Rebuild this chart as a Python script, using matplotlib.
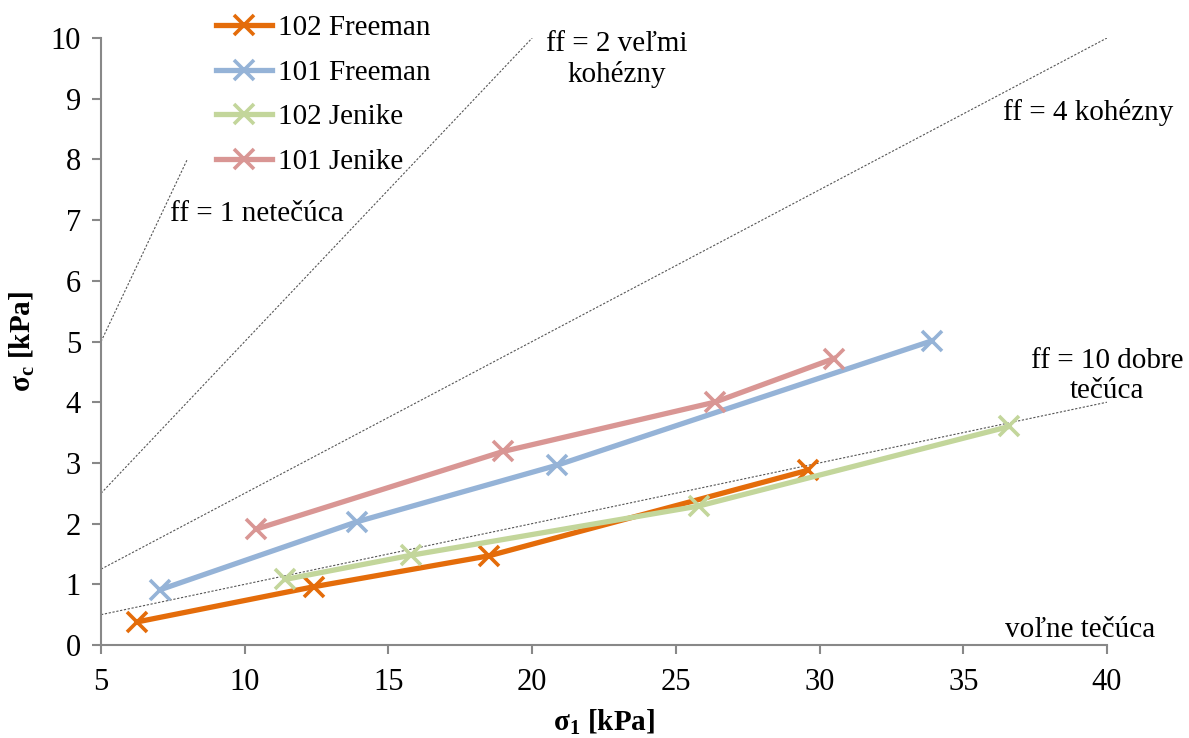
import matplotlib
matplotlib.use("Agg")
import matplotlib.pyplot as plt

plt.rcParams['font.family'] = ['Liberation Serif', 'DejaVu Serif']
plt.rcParams['mathtext.fontset'] = 'custom'
plt.rcParams['mathtext.rm'] = 'Liberation Serif'
plt.rcParams['mathtext.bf'] = 'Liberation Serif:bold'
plt.rcParams['mathtext.it'] = 'Liberation Serif:italic'

# Data
f102_x = [6.25, 12.4, 18.5, 29.6]
f102_y = [0.38, 0.96, 1.47, 2.88]
f101_x = [7.05, 13.9, 20.85, 33.9]
f101_y = [0.91, 2.03, 2.96, 5.01]
j102_x = [11.4, 15.8, 25.8, 36.6]
j102_y = [1.08, 1.48, 2.29, 3.6]
j101_x = [10.4, 19.0, 26.35, 30.5]
j101_y = [1.91, 3.19, 4.0, 4.72]

series_labels = ["102 Freeman", "101 Freeman", "102 Jenike", "101 Jenike"]
series_colors = ["#E46C0A", "#95B3D7", "#C3D69B", "#D99694"]

# flow-function reference lines (x pairs, y pairs)
ff1_x, ff1_y = [5, 8], [5, 8]
ff2_x, ff2_y = [5, 20], [2.5, 10]
ff4_x, ff4_y = [5, 40], [1.25, 10]
ff10_x, ff10_y = [5, 40], [0.5, 4]

x_ticks = [5, 10, 15, 20, 25, 30, 35, 40]
y_ticks = list(range(0, 11))

fig = plt.figure(figsize=(11.89, 7.38), dpi=100)
ax = fig.add_axes([0.085, 0.126, 0.846, 0.8225])

for fx, fy in [(ff1_x, ff1_y), (ff2_x, ff2_y), (ff4_x, ff4_y), (ff10_x, ff10_y)]:
    ax.plot(fx, fy, color="#555555", lw=0.8, linestyle=(0, (2, 1.5)), zorder=1)

for xs, ys, lab, c in zip([f102_x, f101_x, j102_x, j101_x],
                          [f102_y, f101_y, j102_y, j101_y],
                          series_labels, series_colors):
    ax.plot(xs, ys, color=c, lw=3.8, marker='x', markersize=15, mew=2.6,
            label=lab, clip_on=False, zorder=3)

ax.set_xlim(5, 40)
ax.set_ylim(0, 10)
ax.set_xticks(x_ticks)
ax.set_yticks(y_ticks)
for s in ['top', 'right']:
    ax.spines[s].set_visible(False)
for s in ['left', 'bottom']:
    ax.spines[s].set_color('#888888')
    ax.spines[s].set_linewidth(1.5)
ax.tick_params(axis='both', direction='out', length=6.5, width=1.5, color='#888888',
               labelsize=22)
ax.tick_params(axis='y', pad=8)
ax.tick_params(axis='x', pad=10)

ax.set_xlabel(r'$\mathbf{\sigma_1}$ [kPa]', fontsize=21, fontweight='bold', labelpad=8)
ax.set_ylabel(r'$\mathbf{\sigma_c}$ [kPa]', fontsize=21, fontweight='bold', labelpad=10)

tfs = 21
ax.text(10.43, 7.10, "ff = 1 netečúca", fontsize=tfs, ha='center', va='center')
ax.text(22.95, 9.65, "ff = 2 veľmi\nkohézny", fontsize=tfs, ha='center', va='center',
        linespacing=1.2)
ax.text(39.34, 8.78, "ff = 4 kohézny", fontsize=tfs, ha='center', va='center')
ax.text(40.0, 4.43, "ff = 10 dobre\ntečúca", fontsize=tfs, ha='center', va='center',
        linespacing=1.2)
ax.text(39.06, 0.25, "voľne tečúca", fontsize=tfs, ha='center', va='center')

leg = ax.legend(loc='upper left', bbox_to_anchor=(0.103, 1.057), frameon=False,
                fontsize=21, handlelength=1.9, handletextpad=0.2,
                labelspacing=0.62, borderaxespad=0)

fig.savefig("out.png", dpi=100)
